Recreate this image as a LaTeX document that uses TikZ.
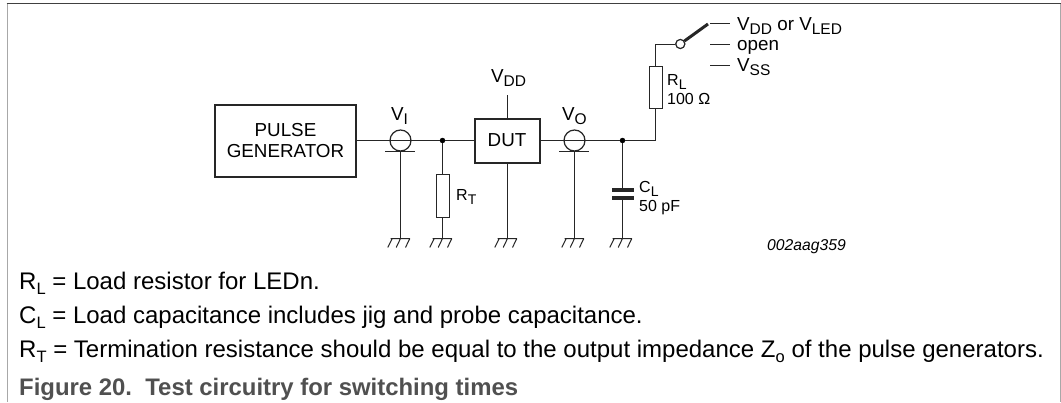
\documentclass[tikz,border=0pt]{standalone}
\usepackage{fontspec}
\setmainfont{Liberation Sans}
\definecolor{framegray}{HTML}{A8A8A8}
\definecolor{captiongray}{HTML}{505050}
\newcommand{\lsub}[1]{\raisebox{-4pt}{\fontsize{15.5}{15.5}\selectfont #1}}
\newcommand{\ssub}[1]{\raisebox{-4pt}{\fontsize{14}{14}\selectfont #1}}
\newcommand{\nsub}[1]{\raisebox{-5pt}{\fontsize{16.5}{16.5}\selectfont #1}}
\begin{document}
\begin{tikzpicture}[x=1pt,y=-1pt,
  wire/.style={line width=1pt,black!85},
  thickbox/.style={draw,line width=2pt,black!85,text=black,inner sep=0pt,align=center,font=\fontsize{18.8}{21.7}\selectfont},
  res/.style={draw,line width=1pt,black!85,fill=white,minimum width=13pt,minimum height=42.5pt,inner sep=0pt},
  probe/.style={draw,line width=1.2pt,black!85,circle,minimum size=21pt,inner sep=0pt},
  junction/.style={circle,fill=black,minimum size=5.5pt,inner sep=0pt},
  swpin/.style={draw,line width=1.1pt,black!85,fill=white,circle,minimum size=9pt,inner sep=0pt},
  lab/.style={inner sep=0pt,anchor=base west,font=\fontsize{18.8}{22}\selectfont},
  small/.style={inner sep=0pt,anchor=base west,font=\fontsize{16}{19}\selectfont},
  note/.style={inner sep=0pt,anchor=base west,font=\fontsize{24}{28}\selectfont},
  gnd/.pic={\draw[line width=1pt,black!85] (-10,0) -- (9.3,0) (-8.3,0) -- (-12.7,9) (0,0) -- (-4.3,9) (9.3,0) -- (5,9);}
]
\useasboundingbox (0,0) rectangle (1061,402);
\fill[white] (0,0) rectangle (1061,402);
\draw[framegray,line width=1.5pt] (7.3,3.5) -- (7.3,402);
\draw[framegray,line width=1pt] (1060.3,3.5) -- (1060.3,402);
\draw[black!75,line width=1pt] (6.5,3.5) -- (1060.8,3.5);

\node[thickbox,minimum width=141pt,minimum height=72pt] (pg) at (285.5,140.5) {PULSE\\GENERATOR};
\node[thickbox,minimum width=65pt,minimum height=44pt] (dut) at (507,140.5) {DUT};

\node[probe] (pi) at (400.5,140.5) {};
\node[probe] (po) at (574.5,140.5) {};
\coordinate (bi) at (400.5,151.5);
\coordinate (bo) at (574.5,151.5);
\coordinate (bil) at (385,151.5);
\coordinate (bir) at (415,151.5);
\coordinate (bol) at (559,151.5);
\coordinate (bor) at (589,151.5);
\node[junction] (j1) at (442.5,140.5) {};
\node[junction] (j2) at (622.5,140.5) {};
\node[res] (rt) at (442.5,196) {};
\node[res] (rl) at (655.5,87.3) {};
\coordinate (corner) at (655.5,140.5);
\coordinate (top) at (655.5,44);
\node[swpin] (sw) at (680.3,44) {};
\coordinate (swend) at (708,24);
\coordinate (a1) at (710,23.5); \coordinate (a2) at (730,23.5);
\coordinate (b1) at (710,44.5); \coordinate (b2) at (730,44.5);
\coordinate (c1) at (710,65.5); \coordinate (c2) at (730,65.5);
\coordinate (g1) at (400.5,238.5);
\coordinate (g2) at (442.5,238.5);
\coordinate (g3) at (507.5,238.5);
\coordinate (g4) at (574.5,238.5);
\coordinate (g5) at (622.5,238.5);
\coordinate (vt) at (507.5,95);
\coordinate (dutt) at (507.5,118);
\coordinate (dutb) at (507.5,162);
\coordinate (c1t) at (622.5,190);
\coordinate (c1b) at (622.5,198);
\coordinate (cpl1) at (612,190); \coordinate (cpr1) at (633.5,190);
\coordinate (cpl2) at (612,198); \coordinate (cpr2) at (633.5,198);

\draw[wire] (pg.east) -- (pi.west) (pi.west) -- (pi.east) -- (j1) -- (dut.west);
\draw[wire] (dut.east) -- (po.west) -- (po.east) -- (j2) -- (corner) -- (rl.south);
\draw[wire] (rl.north) -- (top) -- (sw.west);
\draw[line width=3pt,black!85] (sw) -- (swend);
\draw[wire] (j1) -- (rt.north) (rt.south) -- (g2);
\draw[wire] (vt) -- (dutt) (dutb) -- (g3);
\draw[wire] (bi) -- (g1) (bo) -- (g4);
\draw[wire] (j2) -- (c1t) (c1b) -- (g5);
\draw[line width=1.4pt,black!85] (bil) -- (bir) (bol) -- (bor);
\draw[line width=3.2pt,black!85] (cpl1) -- (cpr1) (cpl2) -- (cpr2);
\draw[wire] (a1) -- (a2) (b1) -- (b2) (c1) -- (c2);
\pic at (g1) {gnd};
\pic at (g2) {gnd};
\pic at (g3) {gnd};
\pic at (g4) {gnd};
\pic at (g5) {gnd};

\node[swpin] (sw2) at (680.3,44) {};

\node[lab] (vi) at (391,120) {V\lsub{I}};
\node[lab] (vo) at (562,120) {V\lsub{O}};
\node[lab] (vdd) at (491,82.7) {V\lsub{DD}};
\node[small] (rtl) at (456,200) {R\ssub{T}};
\node[small] (rll) at (667,85) {R\ssub{L}};
\node[small] (rlv) at (667,104.3) {100 Ω};
\node[small] (cll) at (639,192.7) {C\ssub{L}};
\node[small] (clv) at (639,211.7) {50 pF};
\node[lab] (o1) at (737,30) {V\lsub{DD} or V\lsub{LED}};
\node[lab] (o2) at (737,50) {open};
\node[lab] (o3) at (737,71.3) {V\lsub{SS}};
\node[small,anchor=base east,font=\fontsize{15.7}{19}\selectfont\itshape] (id) at (846,250) {002aag359};

\node[note] (n1) at (19,289) {R\nsub{L} = Load resistor for LEDn.};
\node[note] (n2) at (19,323) {C\nsub{L} = Load capacitance includes jig and probe capacitance.};
\node[note] (n3) at (19,357) {R\nsub{T} = Termination resistance should be equal to the output impedance Z\nsub{o} of the pulse generators.};
\node[note,text=captiongray,font=\fontsize{23.9}{28}\selectfont\bfseries] (cap) at (19,395) {Figure 20.\ \ Test circuitry for switching times};
\end{tikzpicture}
\end{document}
